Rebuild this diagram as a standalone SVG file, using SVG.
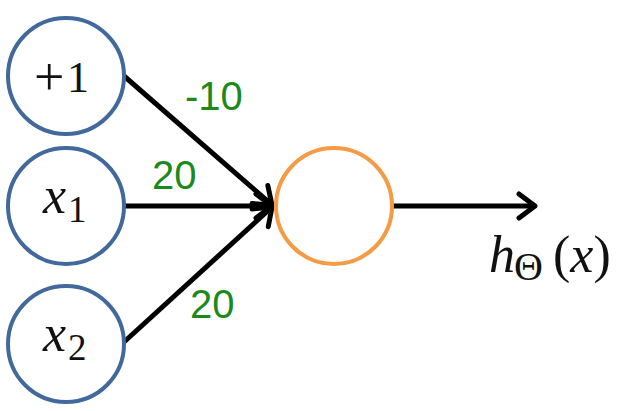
<svg xmlns="http://www.w3.org/2000/svg" width="629" height="411" viewBox="0 0 629 411">
<defs>
<style>
.in{fill:#fff;stroke:#41699b;stroke-width:4}
.out{fill:#fff;stroke:#f59a45;stroke-width:4}
.edge{stroke:#000;stroke-width:5;fill:none}
.w{font-family:"Liberation Sans",Arial,sans-serif;font-size:40px;fill:#1b8a1b}
.m{font-family:"Liberation Serif","Times New Roman",serif;fill:#111}
.mi{font-family:"Liberation Serif","Times New Roman",serif;font-style:italic;fill:#111}
</style>
<marker id="ah" markerUnits="userSpaceOnUse" markerWidth="40" markerHeight="40" viewBox="-20 -20 40 40" refX="0" refY="0" orient="auto" overflow="visible">
<path d="M-16 -12 L0 0 L-16 12" fill="none" stroke="#000" stroke-width="5" stroke-linecap="round" stroke-linejoin="round"/>
</marker>
</defs>
<rect width="629" height="411" fill="#fff"/>
<g id="connectors">
<line class="edge" x1="124" y1="76" x2="272" y2="205" marker-end="url(#ah)"/>
<line class="edge" x1="124" y1="206" x2="272" y2="206" marker-end="url(#ah)"/>
<line class="edge" x1="124" y1="342" x2="272" y2="207" marker-end="url(#ah)"/>
<line class="edge" x1="393" y1="206" x2="535" y2="206" marker-end="url(#ah)"/>
<text class="w" x="185" y="110">-10</text>
<text class="w" x="152" y="189">20</text>
<text class="w" x="190" y="318">20</text>
</g>
<g id="bias">
<circle class="in" cx="66" cy="76" r="58"/>
<text class="m" x="34" y="95" font-size="54">+</text>
<text class="m" x="67" y="92" font-size="44">1</text>
</g>
<g id="x1">
<circle class="in" cx="66" cy="206" r="58"/>
<text class="mi" x="43" y="213" font-size="52">x</text>
<text class="m" x="68" y="222" font-size="37">1</text>
</g>
<g id="x2">
<circle class="in" cx="66" cy="344" r="58"/>
<text class="mi" x="43" y="351" font-size="52">x</text>
<text class="m" x="68" y="360" font-size="37">2</text>
</g>
<g id="output">
<circle class="out" cx="334" cy="206" r="58"/>
</g>
<g id="hlabel">
<text class="mi" x="489" y="272" font-size="52">h</text>
<text class="m" x="514" y="280" font-size="40">Θ</text>
<text class="m" x="553" y="272" font-size="52">(<tspan font-style="italic">x</tspan>)</text>
</g>
</svg>
